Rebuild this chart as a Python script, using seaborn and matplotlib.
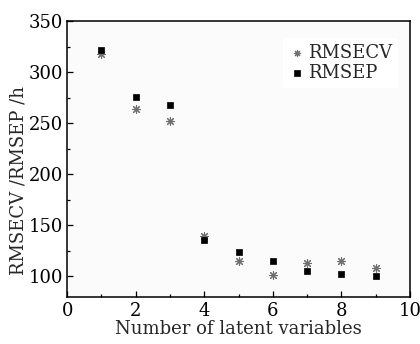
import matplotlib
matplotlib.use("Agg")
import matplotlib.pyplot as plt
import seaborn as sns
import pandas as pd
from matplotlib.ticker import MultipleLocator

latent_vars = [1, 2, 3, 4, 5, 6, 7, 8, 9]
rmsecv = [318, 264, 252, 140, 115, 101, 113, 115, 108]
rmsep = [322, 276, 268, 136, 124, 115, 105, 102, 100]

df = pd.DataFrame({"lv": latent_vars, "RMSECV": rmsecv, "RMSEP": rmsep})

sns.set_theme(style="ticks")
plt.rcParams["font.family"] = ["DejaVu Serif"]
plt.rcParams["mathtext.fontset"] = "dejavuserif"

fig = plt.figure(figsize=(4.2, 3.44), dpi=100)
ax = fig.add_axes([0.16, 0.137, 0.816, 0.802])
ax.set_facecolor("#fbfbfb")

sns.scatterplot(data=df, x="lv", y="RMSECV", marker=(8, 2, 0), s=32,
                color="#6e6e6e", linewidth=0.8, ax=ax, label="RMSECV", zorder=3)
sns.scatterplot(data=df, x="lv", y="RMSEP", marker="s", s=22,
                color="black", edgecolor="black", linewidth=0.5, ax=ax,
                label="RMSEP", zorder=4)

ax.set_xlim(0, 10)
ax.set_ylim(80, 350)
ax.xaxis.set_major_locator(MultipleLocator(2))
ax.xaxis.set_minor_locator(MultipleLocator(1))
ax.yaxis.set_major_locator(MultipleLocator(50))
ax.yaxis.set_minor_locator(MultipleLocator(25))
ax.set_yticks([100, 150, 200, 250, 300, 350])
ax.tick_params(axis="both", which="both", direction="in", labelsize=13,
               colors="black", pad=3)
ax.tick_params(axis="x", pad=4)
ax.tick_params(which="major", length=4, width=0.9)
ax.tick_params(which="minor", length=2.5, width=0.9)
for sp in ax.spines.values():
    sp.set_linewidth(1.1)
    sp.set_color("black")

ax.set_xlabel("Number of latent variables", fontsize=13, labelpad=0)
ax.set_ylabel("RMSECV /RMSEP /h", fontsize=13)
ax.yaxis.set_label_coords(-0.115, 0.42)

leg = ax.legend(loc="upper right", bbox_to_anchor=(0.99, 0.97), frameon=True,
                fontsize=13, handletextpad=0.1, handlelength=1.0,
                borderpad=0.3, labelspacing=0.1, facecolor="white",
                edgecolor="white", framealpha=1, fancybox=False,
                markerscale=0.8)

fig.savefig("out.png", dpi=100, facecolor="white")
